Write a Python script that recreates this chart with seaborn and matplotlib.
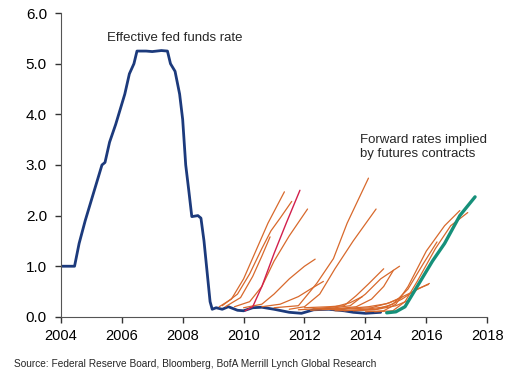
import pandas as pd
import matplotlib
matplotlib.use("Agg")
import matplotlib.pyplot as plt
import seaborn as sns

# Effective fed funds rate (year, %)
fed_years = [2004.0, 2004.45, 2004.6, 2004.8, 2005.0, 2005.2, 2005.35, 2005.45, 2005.6, 2005.8,
             2005.95, 2006.1, 2006.25, 2006.4, 2006.5, 2006.8, 2007.0, 2007.3, 2007.5, 2007.6,
             2007.75, 2007.9, 2008.0, 2008.1, 2008.2, 2008.3, 2008.5, 2008.6, 2008.7, 2008.8,
             2008.9, 2008.97, 2009.1, 2009.3, 2009.5, 2009.8, 2010.0, 2010.3, 2010.6, 2011.0,
             2011.5, 2011.9, 2012.3, 2012.8, 2013.3, 2013.6, 2014.0, 2014.5]
fed_rate = [1.0, 1.0, 1.45, 1.9, 2.3, 2.7, 3.0, 3.05, 3.45, 3.8,
            4.1, 4.4, 4.8, 5.0, 5.25, 5.25, 5.24, 5.26, 5.25, 5.0,
            4.85, 4.4, 3.9, 3.0, 2.5, 1.98, 2.0, 1.95, 1.5, 0.9,
            0.3, 0.15, 0.18, 0.15, 0.2, 0.13, 0.12, 0.18, 0.19, 0.15,
            0.09, 0.07, 0.14, 0.15, 0.12, 0.09, 0.07, 0.09]

# Forward curves implied by futures contracts (orange)
fwd_curves = [
    [(2009.2, 0.2), (2009.6, 0.35), (2010.0, 0.75), (2010.4, 1.3), (2010.8, 1.85), (2011.34, 2.47)],
    [(2009.3, 0.22), (2009.8, 0.45), (2010.2, 0.85), (2010.6, 1.35), (2010.9, 1.7), (2011.2, 1.95), (2011.58, 2.28)],
    [(2009.4, 0.2), (2009.9, 0.38), (2010.3, 0.8), (2010.6, 1.2), (2010.87, 1.58)],
    [(2009.7, 0.2), (2010.2, 0.3), (2010.6, 0.6), (2011.0, 1.1), (2011.5, 1.6), (2012.1, 2.13)],
    [(2010.0, 0.18), (2010.6, 0.25), (2011.0, 0.45), (2011.5, 0.75), (2012.0, 1.0), (2012.35, 1.14)],
    [(2010.6, 0.2), (2011.2, 0.25), (2011.8, 0.4), (2012.2, 0.55), (2012.62, 0.7)],
    [(2011.0, 0.18), (2011.8, 0.22), (2012.4, 0.66), (2012.95, 1.15), (2013.4, 1.85), (2014.1, 2.74)],
    [(2011.5, 0.15), (2012.0, 0.2), (2012.5, 0.45), (2013.0, 0.95), (2013.6, 1.5), (2014.35, 2.13)],
    [(2012.0, 0.18), (2012.8, 0.2), (2013.3, 0.22), (2013.7, 0.42), (2014.1, 0.65), (2014.6, 0.95)],
    [(2012.3, 0.16), (2013.0, 0.18), (2013.5, 0.22), (2014.0, 0.45), (2014.5, 0.75), (2015.12, 1.0)],
    [(2012.6, 0.15), (2013.2, 0.17), (2013.7, 0.2), (2014.2, 0.35), (2014.6, 0.6), (2014.92, 0.92)],
    [(2012.9, 0.14), (2013.6, 0.16), (2014.2, 0.18), (2014.8, 0.28), (2015.4, 0.45), (2016.1, 0.66)],
    [(2013.3, 0.12), (2014.0, 0.15), (2014.7, 0.2), (2015.2, 0.35), (2015.7, 0.55), (2016.07, 0.64)],
    [(2013.6, 0.12), (2014.3, 0.14), (2014.9, 0.25), (2015.4, 0.55), (2015.9, 1.05), (2016.35, 1.48)],
    [(2014.0, 0.1), (2014.6, 0.12), (2015.0, 0.25), (2015.4, 0.6), (2016.0, 1.3), (2016.6, 1.8), (2017.1, 2.1)],
    [(2014.3, 0.1), (2014.9, 0.12), (2015.3, 0.3), (2015.7, 0.7), (2016.3, 1.35), (2016.8, 1.8), (2017.36, 2.06)],
    [(2012.2, 0.13), (2012.9, 0.15), (2013.5, 0.17), (2014.1, 0.2), (2014.7, 0.26), (2015.2, 0.38)],
    [(2013.0, 0.12), (2013.7, 0.13), (2014.4, 0.15), (2015.0, 0.22), (2015.4, 0.32)],
    [(2011.8, 0.14), (2012.4, 0.16), (2013.0, 0.2), (2013.5, 0.28), (2013.9, 0.4)],
]
red_curve = [(2010.05, 0.12), (2010.3, 0.2), (2010.6, 0.6), (2011.0, 1.25), (2011.4, 1.85), (2011.85, 2.5)]
green_curve = [(2014.7, 0.08), (2015.0, 0.1), (2015.3, 0.2), (2015.5, 0.4), (2015.8, 0.7),
               (2016.2, 1.1), (2016.6, 1.45), (2017.1, 2.0), (2017.6, 2.37)]

x_ticks = [2004, 2006, 2008, 2010, 2012, 2014, 2016, 2018]
y_ticks = [0.0, 1.0, 2.0, 3.0, 4.0, 5.0, 6.0]

sns.set_style("ticks")
plt.rcParams['font.family'] = ['Liberation Sans', 'DejaVu Sans']

fig = plt.figure(figsize=(5.2, 3.85), dpi=100)
ax = fig.add_axes([0.117, 0.177, 0.820, 0.789])

sns.lineplot(x=fed_years, y=fed_rate, ax=ax, color='#1c3a7c', linewidth=2.0)
for c in fwd_curves:
    df = pd.DataFrame(c, columns=['year', 'rate'])
    sns.lineplot(data=df, x='year', y='rate', ax=ax, color='#d8692c', linewidth=0.9)
df = pd.DataFrame(red_curve, columns=['year', 'rate'])
sns.lineplot(data=df, x='year', y='rate', ax=ax, color='#d21f4c', linewidth=1.0)
df = pd.DataFrame(green_curve, columns=['year', 'rate'])
sns.lineplot(data=df, x='year', y='rate', ax=ax, color='#16907a', linewidth=2.4)

ax.set_xlim(2004, 2018)
ax.set_ylim(0, 6)
ax.set_xticks(x_ticks)
ax.set_yticks(y_ticks)
ax.set_yticklabels([f"{v:.1f}" for v in y_ticks])
ax.set_xlabel('')
ax.set_ylabel('')
ax.tick_params(length=4, width=1, colors='#333333', labelcolor='black')
ax.tick_params(axis='y', labelsize=11, pad=6)
ax.tick_params(axis='x', labelsize=10.5, pad=5)
for s in ['left', 'bottom']:
    ax.spines[s].set_color('#555555')
sns.despine(ax=ax)

ax.text(2007.75, 5.5, 'Effective fed funds rate', ha='center', va='center', fontsize=9.5)
ax.text(2013.83, 3.36, 'Forward rates implied\nby futures contracts', ha='left', va='center',
        fontsize=9.5, linespacing=1.25)
fig.text(0.027, 0.055, 'Source: Federal Reserve Board, Bloomberg, BofA Merrill Lynch Global Research',
         fontsize=7.3, va='center')

fig.savefig('out.png', dpi=100)
